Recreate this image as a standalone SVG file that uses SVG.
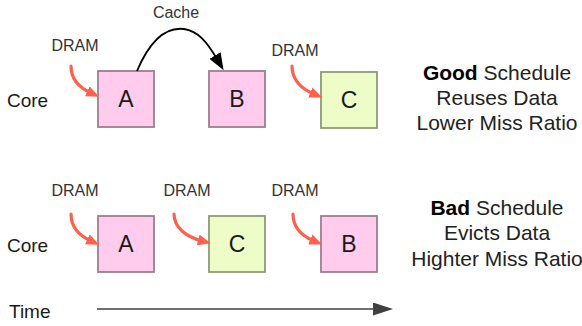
<svg xmlns="http://www.w3.org/2000/svg" width="582" height="326" viewBox="0 0 582 326">
  <style>
    text { font-family: "Liberation Sans", Arial, Helvetica, sans-serif; fill: #1a1a1a; }
    .lbl { font-size: 16px; fill: #333333; text-anchor: middle; }
    .row { font-size: 19px; }
    .letter { font-size: 23px; text-anchor: middle; }
    .note { font-size: 21px; text-anchor: middle; fill: #222222; }
    .note .b { font-weight: bold; fill: #000000; }
    .pink { fill: #ffccee; stroke: #9e7e90; stroke-width: 1.8; }
    .green { fill: #eefcc8; stroke: #8e9a7a; stroke-width: 1.8; }
    .fetch { fill: none; stroke: #ff604c; stroke-width: 3.2; stroke-linecap: round; marker-end: url(#redHead); }
    .reuse { fill: none; stroke: #000000; stroke-width: 1.8; marker-end: url(#blackHead); }
    .time { fill: none; stroke: #404040; stroke-width: 1.4; marker-end: url(#greyHead); }
  </style>
  <defs>
    <marker id="redHead" viewBox="0 0 13 11" refX="4" refY="5.5" markerWidth="13" markerHeight="11" markerUnits="userSpaceOnUse" orient="auto">
      <path d="M0,0 L13,5.5 L0,11 Z" fill="#ff604c"/>
    </marker>
    <marker id="blackHead" viewBox="0 0 17 13" refX="4" refY="6.5" markerWidth="17" markerHeight="13" markerUnits="userSpaceOnUse" orient="auto">
      <path d="M0,0 L17,6.5 L0,13 Z" fill="#000000"/>
    </marker>
    <marker id="greyHead" viewBox="0 0 20 13" refX="2" refY="6.5" markerWidth="20" markerHeight="13" markerUnits="userSpaceOnUse" orient="auto">
      <path d="M0,0 L20,6.5 L0,13 Z" fill="#404040"/>
    </marker>
  </defs>

  <!-- row labels -->
  <text class="row" x="7" y="107">Core</text>
  <text class="row" x="7" y="252">Core</text>
  <text class="row" x="9" y="318">Time</text>

  <!-- good schedule: A, B, C -->
  <g id="good-a">
    <rect class="pink" x="98" y="71" width="56" height="56"/>
    <text class="letter" x="126" y="107">A</text>
  </g>
  <g id="good-b">
    <rect class="pink" x="209" y="71" width="56" height="56"/>
    <text class="letter" x="237" y="107">B</text>
  </g>
  <g id="good-c">
    <rect class="green" x="321" y="72" width="56" height="56"/>
    <text class="letter" x="349" y="108">C</text>
  </g>

  <!-- bad schedule: A, C, B -->
  <g id="bad-a">
    <rect class="pink" x="98" y="216" width="56" height="56"/>
    <text class="letter" x="126" y="252">A</text>
  </g>
  <g id="bad-c">
    <rect class="green" x="209" y="216" width="56" height="56"/>
    <text class="letter" x="237" y="252">C</text>
  </g>
  <g id="bad-b">
    <rect class="pink" x="321" y="216" width="56" height="56"/>
    <text class="letter" x="349" y="252">B</text>
  </g>

  <!-- source labels -->
  <g id="labels">
    <text class="lbl" x="75" y="51">DRAM</text>
    <text class="lbl" x="295" y="56">DRAM</text>
    <text class="lbl" x="176" y="18">Cache</text>
    <text class="lbl" x="75" y="196">DRAM</text>
    <text class="lbl" x="187" y="196">DRAM</text>
    <text class="lbl" x="295" y="196">DRAM</text>
  </g>

  <!-- connectors -->
  <g id="connectors">
    <path class="fetch" d="M71,66 C71,80 80,88 91,93"/>
    <path class="fetch" d="M292,66 C292,80 302,89 314,94"/>
    <path class="fetch" d="M71,214 C71,228 80,236 91,241"/>
    <path class="fetch" d="M174,214 C174,228 187,237 202,241"/>
    <path class="fetch" d="M293,214 C293,228 302,236 314,241"/>
    <path class="reuse" d="M137,71 C151,38 168,27 184,29 C198,31 207,42 217,59"/>
    <path class="time" d="M97,309 L375,309"/>
  </g>

  <!-- schedule notes -->
  <g id="good-note">
    <text class="note" x="497" y="80"><tspan class="b">Good</tspan> Schedule</text>
    <text class="note" x="497" y="105">Reuses Data</text>
    <text class="note" x="497" y="130">Lower Miss Ratio</text>
  </g>
  <g id="bad-note">
    <text class="note" x="497" y="215"><tspan class="b">Bad</tspan> Schedule</text>
    <text class="note" x="497" y="240">Evicts Data</text>
    <text class="note" x="497" y="266">Highter Miss Ratio</text>
  </g>
</svg>
